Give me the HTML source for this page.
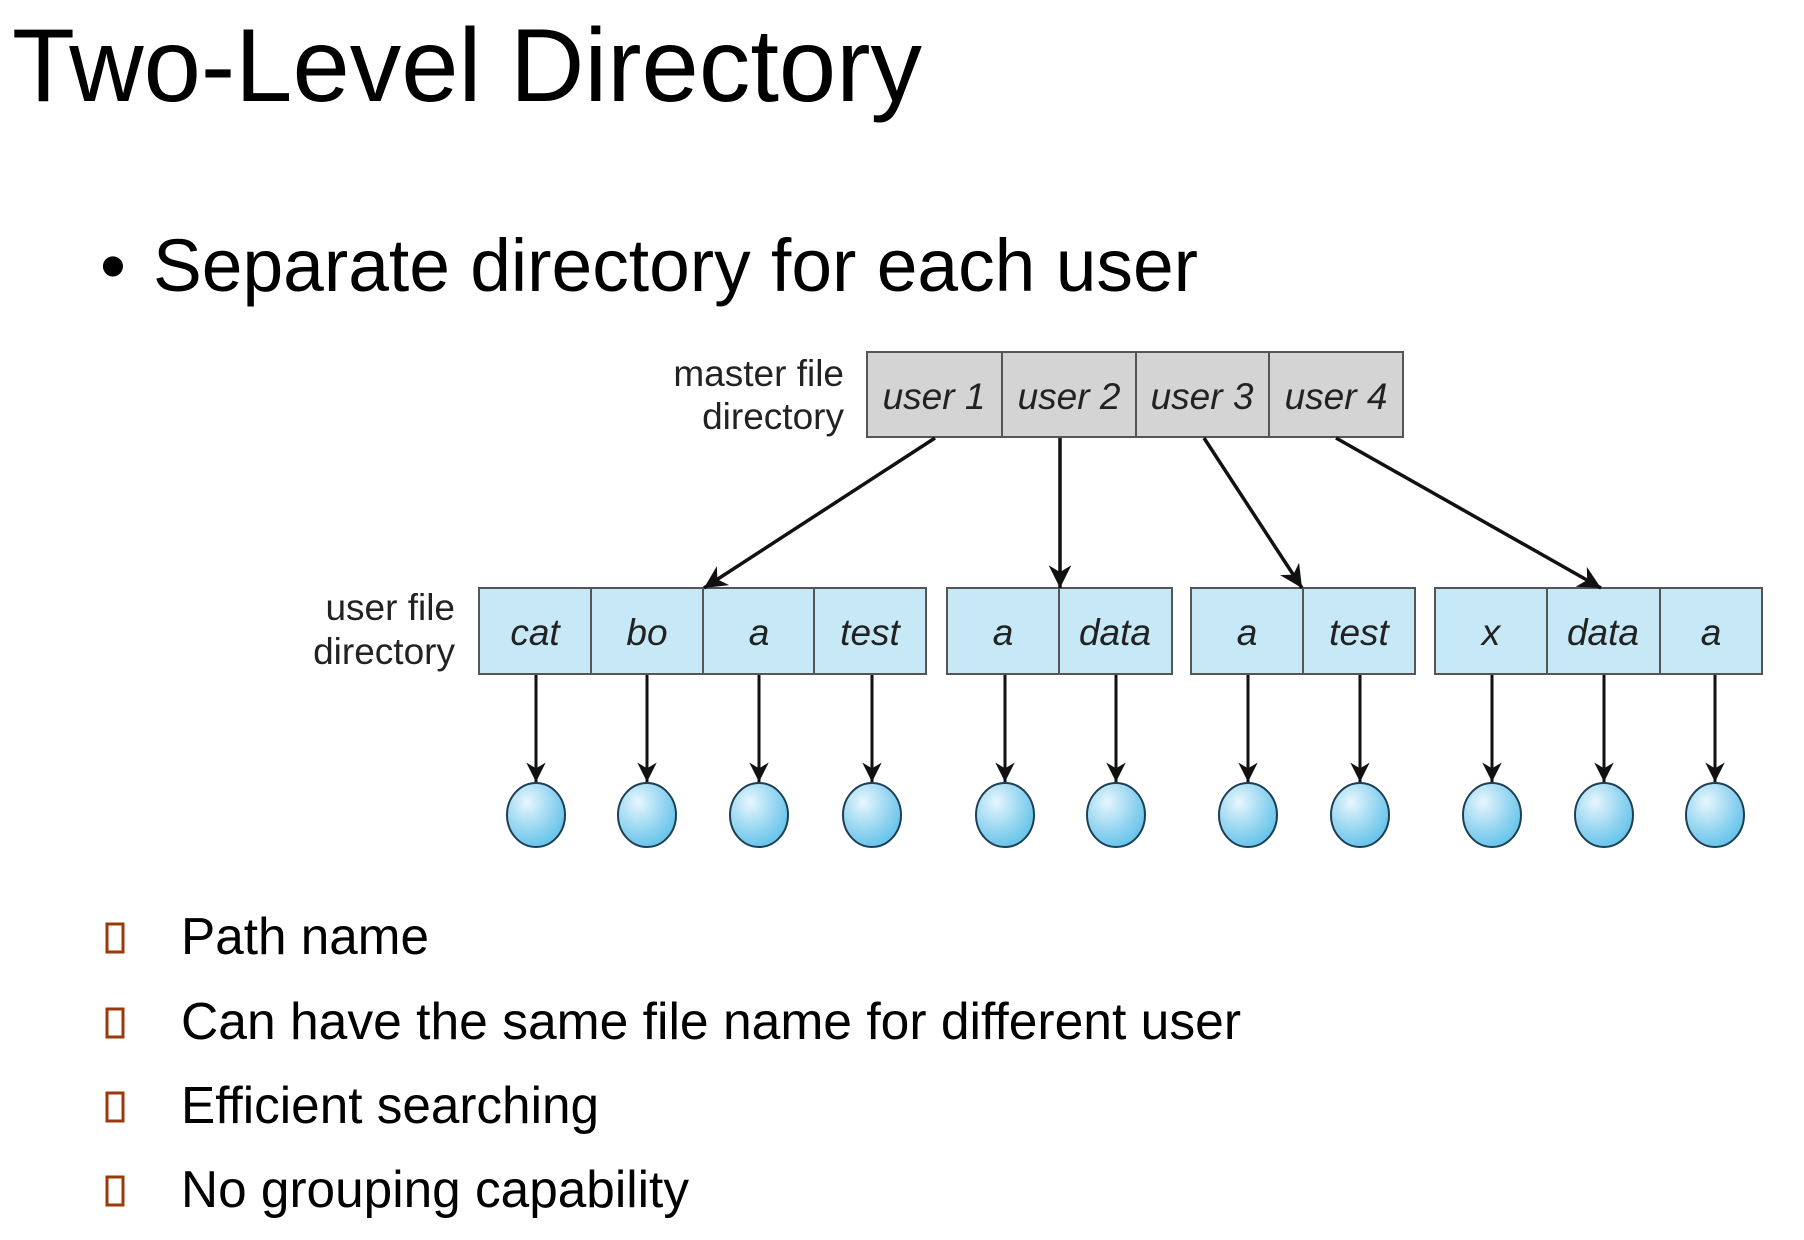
<!DOCTYPE html>
<html><head><meta charset="utf-8"><style>
html,body{margin:0;padding:0;background:#fff;}
svg{display:block;}
</style></head><body>
<svg width="1804" height="1240" viewBox="0 0 1804 1240" xmlns="http://www.w3.org/2000/svg" font-family="Liberation Sans, sans-serif">
<defs>
<marker id="ah" viewBox="0 0 10 10" refX="10" refY="5" markerWidth="6.5" markerHeight="6.5" orient="auto" markerUnits="strokeWidth">
<path d="M0,0 L10,5 L0,10 L3,5 z" fill="#111"/></marker>
<radialGradient id="cg" cx="0.35" cy="0.3" r="0.8">
<stop offset="0" stop-color="#e6f6fd"/><stop offset="0.6" stop-color="#8fd3f0"/><stop offset="1" stop-color="#5bbfe8"/></radialGradient>
</defs>
<text x="12" y="101" font-size="104" textLength="910" lengthAdjust="spacingAndGlyphs" fill="#000">Two-Level Directory</text>
<text x="100" y="291" font-size="74" fill="#000">•</text>
<text x="153" y="291" font-size="74" textLength="1045" lengthAdjust="spacingAndGlyphs" fill="#000">Separate directory for each user</text>

<g font-size="37" fill="#222" text-anchor="end">
<text x="844" y="386">master file</text>
<text x="844" y="429">directory</text>
<text x="455" y="620">user file</text>
<text x="455" y="664">directory</text>
</g>

<g stroke="#555" stroke-width="2" fill="#d4d4d4">
<rect x="867" y="352" width="536" height="85"/>
<line x1="1002" y1="352" x2="1002" y2="437"/><line x1="1136" y1="352" x2="1136" y2="437"/><line x1="1269" y1="352" x2="1269" y2="437"/>
</g>
<g font-size="37" font-style="italic" fill="#222" text-anchor="middle">
<text x="934" y="409">user 1</text><text x="1069" y="409">user 2</text><text x="1202" y="409">user 3</text><text x="1336" y="409">user 4</text>
</g>

<g stroke="#555" stroke-width="2" fill="#c6e8f7">
<rect x="479" y="588" width="447" height="86"/>
<line x1="591" y1="588" x2="591" y2="674"/><line x1="703" y1="588" x2="703" y2="674"/><line x1="814" y1="588" x2="814" y2="674"/>
<rect x="947" y="588" width="225" height="86"/>
<line x1="1059" y1="588" x2="1059" y2="674"/>
<rect x="1191" y="588" width="224" height="86"/>
<line x1="1303" y1="588" x2="1303" y2="674"/>
<rect x="1435" y="588" width="327" height="86"/>
<line x1="1547" y1="588" x2="1547" y2="674"/><line x1="1660" y1="588" x2="1660" y2="674"/>
</g>
<g font-size="37" font-style="italic" fill="#222" text-anchor="middle">
<text x="535" y="645">cat</text><text x="647" y="645">bo</text><text x="759" y="645">a</text><text x="870" y="645">test</text>
<text x="1003" y="645">a</text><text x="1115" y="645">data</text>
<text x="1247" y="645">a</text><text x="1359" y="645">test</text>
<text x="1491" y="645">x</text><text x="1603" y="645">data</text><text x="1711" y="645">a</text>
</g>

<g stroke="#111" stroke-width="3.5" marker-end="url(#ah)">
<line x1="935" y1="438" x2="704" y2="588"/>
<line x1="1060" y1="438" x2="1060" y2="588"/>
<line x1="1204" y1="438" x2="1302" y2="588"/>
<line x1="1336" y1="438" x2="1601" y2="588"/>
</g>
<g stroke="#111" stroke-width="3" marker-end="url(#ah)">
<line x1="536" y1="675" x2="536" y2="782"/><line x1="647" y1="675" x2="647" y2="782"/><line x1="759" y1="675" x2="759" y2="782"/><line x1="872" y1="675" x2="872" y2="782"/>
<line x1="1005" y1="675" x2="1005" y2="782"/><line x1="1116" y1="675" x2="1116" y2="782"/>
<line x1="1248" y1="675" x2="1248" y2="782"/><line x1="1360" y1="675" x2="1360" y2="782"/>
<line x1="1492" y1="675" x2="1492" y2="782"/><line x1="1604" y1="675" x2="1604" y2="782"/><line x1="1715" y1="675" x2="1715" y2="782"/>
</g>
<g fill="url(#cg)" stroke="#1d3f55" stroke-width="2">
<ellipse cx="536" cy="815" rx="29" ry="32"/><ellipse cx="647" cy="815" rx="29" ry="32"/><ellipse cx="759" cy="815" rx="29" ry="32"/><ellipse cx="872" cy="815" rx="29" ry="32"/>
<ellipse cx="1005" cy="815" rx="29" ry="32"/><ellipse cx="1116" cy="815" rx="29" ry="32"/>
<ellipse cx="1248" cy="815" rx="29" ry="32"/><ellipse cx="1360" cy="815" rx="29" ry="32"/>
<ellipse cx="1492" cy="815" rx="29" ry="32"/><ellipse cx="1604" cy="815" rx="29" ry="32"/><ellipse cx="1715" cy="815" rx="29" ry="32"/>
</g>

<g fill="none" stroke="#9a3a0c" stroke-width="3">
<rect x="107" y="924" width="16" height="28"/>
<rect x="107" y="1009" width="16" height="28"/>
<rect x="107" y="1093" width="16" height="28"/>
<rect x="107" y="1177" width="16" height="28"/>
</g>
<g font-size="52" fill="#000">
<text x="181" y="954" textLength="248" lengthAdjust="spacingAndGlyphs">Path name</text>
<text x="181" y="1039" textLength="1060" lengthAdjust="spacingAndGlyphs">Can have the same file name for different user</text>
<text x="181" y="1123" textLength="418" lengthAdjust="spacingAndGlyphs">Efficient searching</text>
<text x="181" y="1207" textLength="508" lengthAdjust="spacingAndGlyphs">No grouping capability</text>
</g>
</svg>
</body></html>
